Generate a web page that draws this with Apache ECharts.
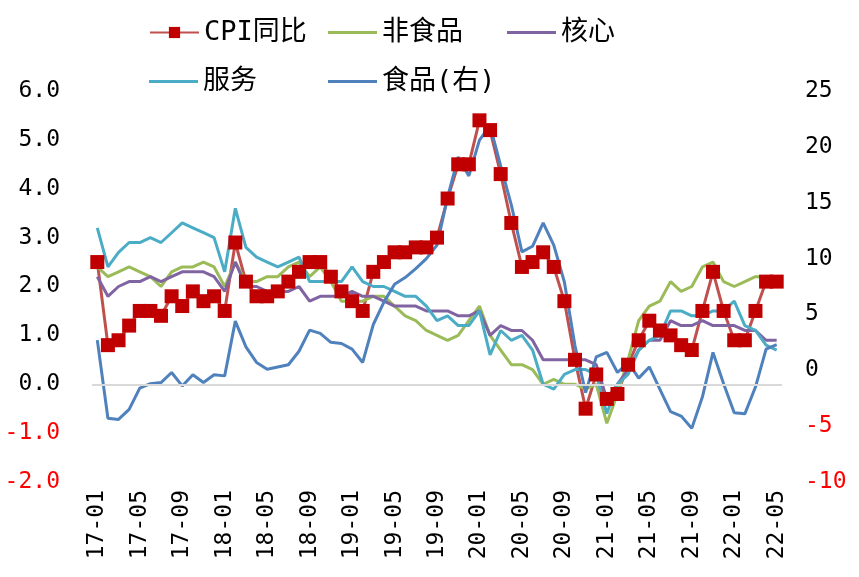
<!DOCTYPE html>
<html><head><meta charset="utf-8">
<script src="https://cdn.jsdelivr.net/npm/echarts@6/dist/echarts.min.js"></script>
<style>html,body{margin:0;padding:0;background:#fff}#c{width:859px;height:577px}</style>
</head><body><div id="c"></div>
<script>
const categories = [
"17-01","17-02","17-03","17-04","17-05","17-06","17-07","17-08","17-09","17-10","17-11","17-12",
"18-01","18-02","18-03","18-04","18-05","18-06","18-07","18-08","18-09","18-10","18-11","18-12",
"19-01","19-02","19-03","19-04","19-05","19-06","19-07","19-08","19-09","19-10","19-11","19-12",
"20-01","20-02","20-03","20-04","20-05","20-06","20-07","20-08","20-09","20-10","20-11","20-12",
"21-01","21-02","21-03","21-04","21-05","21-06","21-07","21-08","21-09","21-10","21-11","21-12",
"22-01","22-02","22-03","22-04","22-05"];
const cpi = [2.5,0.8,0.9,1.2,1.5,1.5,1.4,1.8,1.6,1.9,1.7,1.8,
1.5,2.9,2.1,1.8,1.8,1.9,2.1,2.3,2.5,2.5,2.2,1.9,
1.7,1.5,2.3,2.5,2.7,2.7,2.8,2.8,3.0,3.8,4.5,4.5,
5.4,5.2,4.3,3.3,2.4,2.5,2.7,2.4,1.7,0.5,-0.5,0.2,
-0.3,-0.2,0.4,0.9,1.3,1.1,1.0,0.8,0.7,1.5,2.3,1.5,
0.9,0.9,1.5,2.1,2.1];
const nonFood = [2.4,2.2,2.3,2.4,2.3,2.2,2.0,2.3,2.4,2.4,2.5,2.4,
2.0,2.5,2.1,2.1,2.2,2.2,2.4,2.5,2.2,2.4,2.1,1.7,
1.7,1.7,1.8,1.8,1.6,1.4,1.3,1.1,1.0,0.9,1.0,1.3,
1.6,1.0,0.7,0.4,0.4,0.3,0.0,0.1,0.0,0.0,-0.1,0.0,
-0.8,-0.2,0.5,1.3,1.6,1.7,2.1,1.9,2.0,2.4,2.5,2.1,
2.0,2.1,2.2,2.2,2.1];
const core = [2.2,1.8,2.0,2.1,2.1,2.2,2.1,2.2,2.3,2.3,2.3,2.2,
1.9,2.5,2.0,2.0,1.9,1.9,1.9,2.0,1.7,1.8,1.8,1.8,
1.9,1.8,1.8,1.7,1.6,1.6,1.6,1.5,1.5,1.5,1.4,1.4,
1.5,1.0,1.2,1.1,1.1,0.9,0.5,0.5,0.5,0.5,0.5,0.4,
-0.3,0.0,0.3,0.7,0.9,0.9,1.3,1.2,1.2,1.3,1.2,1.2,
1.2,1.1,1.1,0.9,0.9];
const services = [3.2,2.4,2.7,2.9,2.9,3.0,2.9,3.1,3.3,3.2,3.1,3.0,
2.3,3.6,2.8,2.6,2.5,2.4,2.5,2.6,2.1,2.1,2.1,2.1,
2.4,2.1,2.0,2.0,1.9,1.8,1.8,1.6,1.3,1.4,1.2,1.2,
1.5,0.6,1.1,0.9,1.0,0.7,0.0,-0.1,0.2,0.3,0.3,0.2,
-0.6,0.0,0.2,0.7,0.9,1.0,1.5,1.5,1.4,1.4,1.5,1.5,
1.7,1.2,1.1,0.8,0.7];
const food = [2.7,-4.3,-4.4,-3.5,-1.6,-1.2,-1.1,-0.2,-1.4,-0.4,-1.1,-0.4,
-0.5,4.4,2.1,0.7,0.1,0.3,0.5,1.7,3.6,3.3,2.5,2.4,
1.9,0.7,4.1,6.1,7.7,8.3,9.1,10.0,11.2,15.5,19.1,17.4,
20.6,21.9,18.3,14.8,10.6,11.1,13.2,11.2,7.9,2.2,-2.0,1.2,
1.6,-0.2,0.7,-0.7,0.3,-1.7,-3.7,-4.1,-5.2,-2.4,1.6,-1.2,
-3.8,-3.9,-1.5,1.9,2.3];

const names = ["CPI同比","非食品","核心","服务","食品(右)"];
const FONT_LEG = "'DejaVu Sans Mono', 'Noto Sans CJK SC'";
const FONT_NUM = "'DejaVu Sans Mono'";

const chart = echarts.init(document.getElementById('c'), null, {renderer:'canvas'});
function leg(name, left, top, plain){
  const d = plain ? [{name:name, icon:'rect'}] : [name];
  return {data:d, left:left, top:top, padding:0, itemWidth:49, itemHeight: plain ? 3 : 14, itemGap:0,
    textStyle:{fontFamily:FONT_LEG, fontSize:27, color:'#000'}};
}
const axisLbl = {fontFamily:FONT_NUM, fontSize:23, color:'#000'};
chart.setOption({
  animation:false,
  backgroundColor:'#fff',
  legend:[leg(names[0],149,19,false), leg(names[1],328,19,true), leg(names[2],507,19,true),
          leg(names[3],149,68,true), leg(names[4],328,68,true)],
  grid:{left:92, right:77, top:91, bottom:95, containLabel:false},
  xAxis:{type:'category', data:categories, boundaryGap:true,
    axisLine:{show:false}, axisTick:{show:false},
    axisLabel:Object.assign({interval:3, rotate:90, margin:8}, axisLbl)},
  yAxis:[
    {type:'value', min:-2, max:6, interval:1, splitLine:{show:false},
     axisLine:{show:false}, axisTick:{show:false},
     axisLabel:Object.assign({margin:32, formatter:v=> v<0 ? '{n|'+v.toFixed(1)+'}' : v.toFixed(1),
       rich:{n:{color:'#FF0000', fontFamily:FONT_NUM, fontSize:23}}}, axisLbl)},
    {type:'value', min:-10, max:25, interval:5, splitLine:{show:false},
     axisLine:{show:false}, axisTick:{show:false},
     axisLabel:Object.assign({margin:23, formatter:v=> v<0 ? '{n|'+v+'}' : String(v),
       rich:{n:{color:'#FF0000', fontFamily:FONT_NUM, fontSize:23}}}, axisLbl)}
  ],
  series:[
    {name:names[0], type:'line', data:cpi, yAxisIndex:0, symbol:'rect', symbolSize:14, showAllSymbol:true,
     itemStyle:{color:'#C00000'}, lineStyle:{color:'#C0504D', width:3},
     markLine:{silent:true, symbol:['none','none'], label:{show:false},
       lineStyle:{color:'#D9D9D9', width:2, type:'solid'}, data:[{yAxis:0}]}},
    {name:names[1], type:'line', data:nonFood, yAxisIndex:0, symbol:'none',
     itemStyle:{color:'#9BBB59'}, lineStyle:{color:'#9BBB59', width:3}},
    {name:names[2], type:'line', data:core, yAxisIndex:0, symbol:'none',
     itemStyle:{color:'#8064A2'}, lineStyle:{color:'#8064A2', width:3}},
    {name:names[3], type:'line', data:services, yAxisIndex:0, symbol:'none',
     itemStyle:{color:'#4BACC6'}, lineStyle:{color:'#4BACC6', width:3}},
    {name:names[4], type:'line', data:food, yAxisIndex:1, symbol:'none',
     itemStyle:{color:'#4F81BD'}, lineStyle:{color:'#4F81BD', width:3}}
  ]
});
</script></body></html>
